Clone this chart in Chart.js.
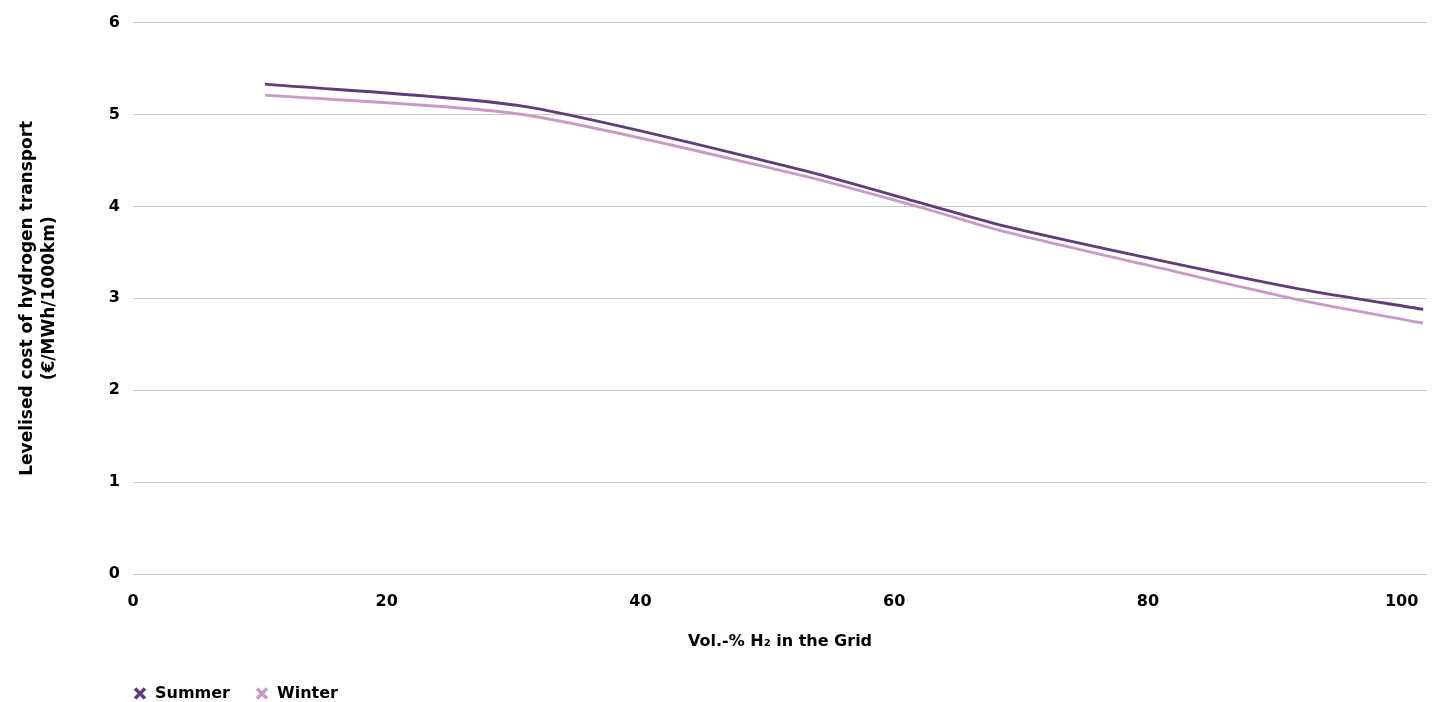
<!DOCTYPE html>
<html>
<head>
<meta charset="utf-8">
<script src="https://cdn.jsdelivr.net/npm/chart.js@4.4.0/dist/chart.umd.min.js"></script>
<style>
  html, body { margin: 0; padding: 0; background: #fff; }
  #wrap { width: 1438px; height: 702px; position: relative; }
</style>
</head>
<body>
<div id="wrap"><canvas id="costChart"></canvas></div>
<script>
// Vol.-% H2 in the grid
const volH2 = [10.4, 30.7, 52.6, 62.3, 68.3, 80, 92, 101.7];
// levelised cost of hydrogen transport (€/MWh/1000km)
const summer = [5.33, 5.09, 4.40, 4.03, 3.80, 3.44, 3.10, 2.88];
const winter = [5.21, 5.00, 4.34, 3.98, 3.74, 3.36, 2.98, 2.73];
const seriesNames = ['Summer', 'Winter'];
const xTicks = [0, 20, 40, 60, 80, 100];
const yTicks = [0, 1, 2, 3, 4, 5, 6];

const FONT = '"DejaVu Sans", "Noto Sans", sans-serif';
const colors = ['#5e3c7d', '#c99ac7'];

const toPoints = vals => vals.map((v, i) => ({x: volH2[i], y: v}));

// put the legend where the original has it (under the plot, left aligned)
const legendSpot = {
    id: 'legendSpot',
    afterLayout(chart) {
        const lg = chart.legend;
        lg.left = 133 - lg.options.labels.padding;
        lg.top += 9.5;
    }
};

const config = {
    type: 'line',
    data: {
        datasets: [summer, winter].map((vals, i) => ({
            label: seriesNames[i],
            data: toPoints(vals),
            borderColor: colors[i],
            backgroundColor: colors[i],
            borderWidth: 2.8,
            pointRadius: 0,
            tension: 0.25
        }))
    },
    options: {
        responsive: true,
        maintainAspectRatio: false,
        animation: false,
        layout: { padding: { left: 13, top: 21, right: 11, bottom: 0 } },
        plugins: {
            tooltip: { enabled: false },
            legend: {
                position: 'bottom',
                align: 'start',
                labels: {
                    usePointStyle: true,
                    boxWidth: 14,
                    boxHeight: 10,
                    padding: 25,
                    color: '#000',
                    font: { family: FONT, size: 16, weight: 'bold' },
                    generateLabels: chart => chart.data.datasets.map((ds, i) => ({
                        text: ds.label,
                        fillStyle: ds.borderColor,
                        strokeStyle: ds.borderColor,
                        fontColor: '#000',
                        lineWidth: 3.5,
                        pointStyle: 'crossRot',
                        hidden: false,
                        datasetIndex: i
                    }))
                }
            }
        },
        scales: {
            x: {
                type: 'linear',
                min: 0,
                max: 102,
                afterBuildTicks: scale => { scale.ticks = xTicks.map(v => ({value: v})); },
                afterFit: scale => { scale.height = 77; },
                grid: { display: false },
                border: { display: false },
                ticks: {
                    padding: 10,
                    color: '#000',
                    maxRotation: 0,
                    font: { family: FONT, size: 16, weight: 'bold' }
                },
                title: {
                    display: true,
                    text: 'Vol.-% H\u2082 in the Grid',
                    color: '#000',
                    padding: { top: 0, bottom: 0 },
                    font: { family: FONT, size: 16, weight: 'bold', lineHeight: 1.2 }
                }
            },
            y: {
                min: 0,
                max: 6,
                afterBuildTicks: scale => { scale.ticks = yTicks.map(v => ({value: v})); },
                afterFit: scale => { scale.width = 120; },
                grid: { color: '#c8c8c8', lineWidth: 1, drawTicks: false },
                border: { display: false },
                ticks: {
                    padding: 13,
                    color: '#000',
                    font: { family: FONT, size: 16, weight: 'bold' }
                },
                title: {
                    display: true,
                    text: ['Levelised cost of hydrogen transport', '(\u20ac/MWh/1000km)'],
                    color: '#000',
                    padding: { top: 4, bottom: 4 },
                    font: { family: FONT, size: 17, weight: 'bold', lineHeight: '22px' }
                }
            }
        }
    },
    plugins: [legendSpot]
};

const ctx = document.getElementById('costChart').getContext('2d');
if (ctx !== null) {
    const costChart = new Chart(ctx, config);
}
</script>
</body>
</html>
